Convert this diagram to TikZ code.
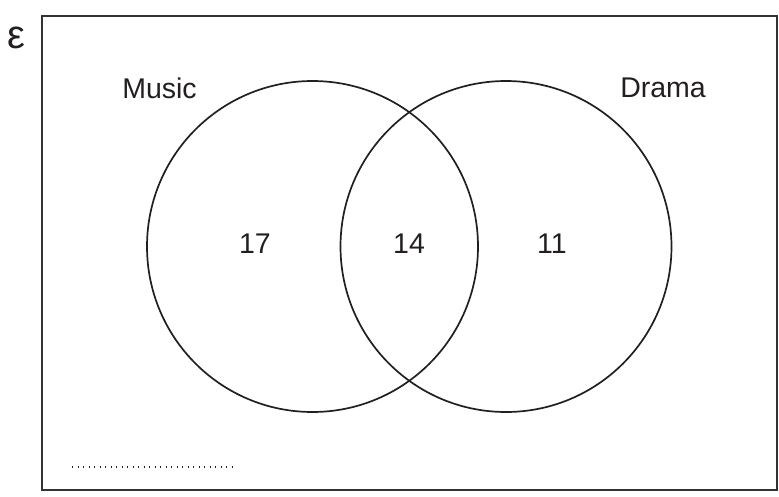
\documentclass[tikz,border=0pt]{standalone}
\usepackage{fontspec}
\setmainfont{Liberation Sans}
\definecolor{ink}{HTML}{231F20}
\definecolor{frame}{HTML}{333333}
\begin{document}
\begin{tikzpicture}[x=1pt,y=-1pt,
  lbl/.style={font=\fontsize{28.5}{34}\selectfont, text=ink, inner sep=0pt},
  setcircle/.style={circle, draw=ink, line width=1.7pt, minimum size=331pt, inner sep=0pt},
  ]
\useasboundingbox (0,0) rectangle (779,496);
\node[draw=frame, line width=2pt, minimum width=735pt, minimum height=474pt, inner sep=0pt] (univ) at (409.5,253) {};
\node[lbl, font=\fontsize{40}{44}\selectfont] (eps) at (16,38) {ε};
\node[setcircle] (music) at (312.5,246.5) {};
\node[setcircle] (drama) at (506,246.5) {};
\node[lbl] (musiclbl) at (159.5,88) {Music};
\node[lbl] (dramalbl) at (663,88) {Drama};
\node[lbl] (n17) at (255,244) {17};
\node[lbl] (n14) at (409,244) {14};
\node[lbl] (n11) at (552,244) {11};
\coordinate (dotA) at (72,467);
\coordinate (dotB) at (234,467);
\draw[ink, line width=1.4pt, dash pattern=on 1.4pt off 4.1pt] (dotA) -- (dotB);
\end{tikzpicture}
\end{document}
